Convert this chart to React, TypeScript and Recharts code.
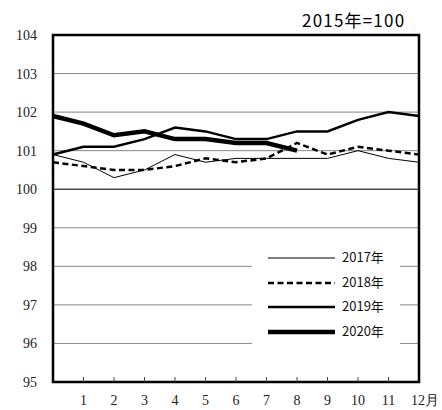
import React from "react";
import { LineChart, Line, XAxis, YAxis, CartesianGrid, ReferenceLine, ReferenceArea, Legend } from "recharts";

const months = [0, 1, 2, 3, 4, 5, 6, 7, 8, 9, 10, 11, 12];
const s2017 = [100.9, 100.7, 100.3, 100.5, 100.9, 100.7, 100.8, 100.8, 100.8, 100.8, 101.0, 100.8, 100.7];
const s2018 = [100.7, 100.6, 100.5, 100.5, 100.6, 100.8, 100.7, 100.8, 101.2, 100.9, 101.1, 101.0, 100.9];
const s2019 = [100.9, 101.1, 101.1, 101.3, 101.6, 101.5, 101.3, 101.3, 101.5, 101.5, 101.8, 102.0, 101.9];
const s2020 = [101.9, 101.7, 101.4, 101.5, 101.3, 101.3, 101.2, 101.2, 101.0];
const xTicks = [1, 2, 3, 4, 5, 6, 7, 8, 9, 10, 11, 12];
const yTicks = [95, 96, 97, 98, 99, 100, 101, 102, 103, 104];
const title = "2015年=100";

const data = months.map((m, i) => ({
  m,
  y2017: s2017[i],
  y2018: s2018[i],
  y2019: s2019[i],
  y2020: i < s2020.length ? s2020[i] : null,
}));

const series = [
  { key: "y2017", name: "2017年", width: 1, dash: undefined as string | undefined },
  { key: "y2018", name: "2018年", width: 2.5, dash: "6 3.5" },
  { key: "y2019", name: "2019年", width: 2.5, dash: undefined },
  { key: "y2020", name: "2020年", width: 4.5, dash: undefined },
];

const serif = "'Liberation Serif', serif";
const sans = "'Noto Sans CJK JP', 'Noto Sans', sans-serif";

const XTick = (props: any) => {
  const { x, y, payload } = props;
  const v = payload.value;
  return (
    <g>
      {v < 12 && <line x1={x} x2={x} y1={y} y2={y - 5} stroke="#444" strokeWidth={1} />}
      <text x={v === 12 ? x + 6 : x} y={y + 23} textAnchor="middle" style={{ fontFamily: serif, fontSize: 14 }} fill="#222">
        {v === 12 ? "12月" : String(v)}
      </text>
    </g>
  );
};

const YTick = (props: any) => {
  const { x, y, payload } = props;
  return (
    <text x={x} y={y + 5} textAnchor="end" style={{ fontFamily: serif, fontSize: 14 }} fill="#222">
      {String(payload.value)}
    </text>
  );
};

const LegendContent = () => (
  <div style={{ position: "relative", width: 148, height: 112 }}>
    {series.map((s, i) => (
      <div key={s.key} style={{ position: "absolute", left: 0, top: 22 + i * 24.7 - 8, height: 16, width: 148 }}>
        <svg width={90} height={16} style={{ position: "absolute", left: 0, top: 0 }}>
          <line x1={16} x2={83} y1={8} y2={8} stroke="#000" strokeWidth={s.width} strokeDasharray={s.dash} />
        </svg>
        <span style={{ position: "absolute", left: 90, top: -1, fontFamily: sans, fontSize: 13, lineHeight: "16px", color: "#111" }}>
          {s.name}
        </span>
      </div>
    ))}
  </div>
);

export default function App() {
  return (
    <div style={{ position: "absolute", left: 0, top: 0, width: 442, height: 410, background: "#fff" }}>
      <div style={{ position: "absolute", left: 302, top: 8, fontFamily: sans, fontSize: 17, letterSpacing: 1.2, color: "#000", whiteSpace: "nowrap", lineHeight: "24px" }}>
        {title}
      </div>
      <LineChart width={442} height={410} data={data} margin={{ top: 35, right: 23, left: 0, bottom: 0 }}>
        <CartesianGrid horizontal vertical={false} stroke="#888" strokeWidth={1} />
        <XAxis
          dataKey="m"
          type="number"
          domain={[0, 12]}
          ticks={xTicks}
          interval={0}
          axisLine={false}
          tickLine={false}
          tickSize={0}
          tickMargin={0}
          height={28}
          tick={<XTick />}
        />
        <YAxis
          type="number"
          domain={[95, 104]}
          ticks={yTicks}
          interval={0}
          axisLine={false}
          tickLine={false}
          tickSize={0}
          tickMargin={16}
          width={53}
          tick={<YTick />}
        />
        <ReferenceLine y={100} stroke="#222" strokeWidth={1} />
        <Legend
          layout="vertical"
          align="center"
          verticalAlign="middle"
          content={<LegendContent />}
          wrapperStyle={{ left: 252, top: 236, width: 148, height: 112, background: "#fff" }}
        />
        {series.map((s) => (
          <Line
            key={s.key}
            dataKey={s.key}
            name={s.name}
            stroke="#000"
            strokeWidth={s.width}
            strokeDasharray={s.dash}
            dot={false}
            activeDot={false}
            connectNulls={false}
            isAnimationActive={false}
          />
        ))}
        <ReferenceArea x1={0} x2={12} y1={95} y2={104} fill="none" stroke="#000" strokeWidth={2.5} />
      </LineChart>
    </div>
  );
}
